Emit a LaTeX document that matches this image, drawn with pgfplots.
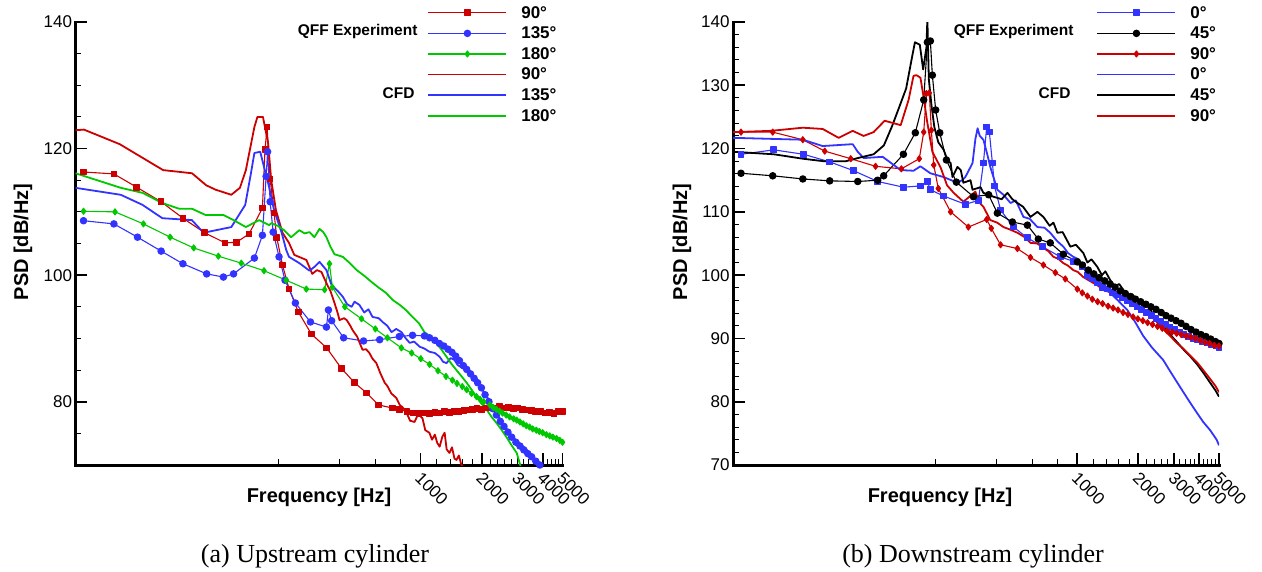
\documentclass[border=0pt]{standalone}
\usepackage{pgfplots}
\pgfplotsset{compat=1.18}
\usepackage{fontspec}
\setmainfont{Liberation Sans}
\newfontfamily\capfont{Liberation Serif}
\definecolor{cred}{RGB}{204,0,0}
\definecolor{cblue}{RGB}{51,51,255}
\definecolor{cgreen}{RGB}{0,200,0}
\newcommand{\tickfont}{\fontsize{17}{20}\selectfont}
\newcommand{\legfont}{\bfseries\fontsize{17}{20}\selectfont}
\newcommand{\grpfont}{\bfseries\fontsize{15.5}{19}\selectfont}
\newcommand{\labfont}{\bfseries\fontsize{20}{24}\selectfont}
\newcommand{\ls}{\rule[-4.5pt]{0pt}{16.5pt}}
\pgfplotsset{
  every axis/.append style={
    scale only axis, height=443pt,
    xmin=20, xmax=5000, ymin=70, ymax=140,
    axis lines=left,
    axis line style={line width=3pt,-,line cap=rect},
    every outer x axis line/.append style={line width=3pt,-},
    every outer y axis line/.append style={line width=3pt,-},
    tick align=inside, major tick length=12pt, minor tick length=6pt,
    every major tick/.append style={line width=1.8pt,black},
    every minor tick/.append style={line width=1pt,black},
    xtick={1000,2000,3000,4000,5000},
    xticklabels={1000,2000,3000,4000,5000},
    minor xtick={200,400,600,800,1200,1400,1600,1800,2200,2400,2600,2800,3200,3400,3600,3800,4200,4400,4600,4800},
    xticklabel style={xshift=2pt,yshift=-1pt,rotate=-45,anchor=north west,font=\tickfont},
    yticklabel style={font=\tickfont},
    legend cell align=left,
    legend style={draw=none,fill=none,font=\legfont,anchor=north west,
      inner sep=0pt,outer sep=0pt,row sep=3.1pt,column sep=12pt},
  },
  expline/.style={line width=1.1pt,line join=round},
  cfdline/.style={line width=1.8pt,line join=round,no markers},
  legend image code/.code={\draw[mark repeat=2,mark phase=2,#1] plot coordinates {(0pt,0pt) (39pt,0pt) (78pt,0pt)};},
}
\pgfkeys{/pgf/number format/assume math mode=true}
\begin{document}
\begin{tikzpicture}
\useasboundingbox (0,0) rectangle (1262pt,-571pt);
% ---------------- (a) upstream ----------------
\begin{semilogxaxis}[at={(75.5pt,-465pt)}, anchor=south west, width=487pt,
  ytick={80,100,120,140},
  minor ytick={75,85,90,95,105,110,115,125,130,135},
  legend style={at={(0.7228,1.0406)}}]
\addplot[expline,cred,mark=square*,mark size=2.8pt] coordinates {
(21.9,116.3) (30.9,116.0) (40,113.9) (52.8,111.6) (67.6,109.0) (86.5,106.7) (109,105.1) (124,105.2) (143,106.5) (166.5,110.6) (171.5,119.9) (175.6,123.4) (181.7,115.2) (190,109.8) (196,105.9) (209,101.6) (225.4,97.8) (250,94.2) (290,90.7) (345,88.5) (407,85.3) (473,83.0) (542,81.4) (620,79.5) (728,79.0)
(790,78.8) (857,78.4) (920,78.2) (982,78.1) (1045,78.2) (1108,78.1) (1176,78.3) (1239,78.2) (1313,78.4) (1386,78.3) (1470,78.5) (1544,78.4) (1635,78.6) (1720,78.7) (1804,78.8) (1899,78.9) (1994,78.8) (2100,79.0) (2215,79.1) (2332,79.0) (2449,79.2) (2576,79.0) (2714,79.1) (2862,78.9) (3011,79.0) (3171,78.8) (3330,78.7) (3511,78.6) (3692,78.4) (3898,78.5) (4101,78.2) (4315,78.3) (4539,78.1) (4774,78.4) (5000,78.5)};
\addlegendentry{\ls 90°}
\addplot[expline,cblue,mark=*,mark size=3.2pt] coordinates {
(21.9,108.6) (30.9,108.1) (40.4,106.0) (52.8,103.8) (67.6,101.8) (88.5,100.2) (107,99.7) (120,100.2) (152,102.7) (166.5,106.3) (173.6,115.6) (176.6,119.5) (181.7,111.6) (188,106.8) (201,102.9) (215,99.2) (242,95.6) (287,92.6) (344,91.8) (352,94.5) (365,92.8) (418,90.1) (524,89.6) (629,89.8) (786,90.3) (913,90.5)
(1045,90.4) (1108,90.1) (1176,89.7) (1239,89.2) (1302,88.8) (1365,88.3) (1428,87.8) (1491,87.2) (1554,86.5) (1625,85.7) (1688,85.1) (1762,84.4) (1836,83.7) (1910,83.0) (1994,82.2) (2078,81.1) (2173,80.0) (2268,78.9) (2364,77.9) (2470,76.9) (2576,76.1) (2692,75.2) (2809,74.4) (2947,73.6) (3086,73.0) (3224,72.4) (3373,71.8) (3522,71.3) (3695,70.6) (3866,70.0) (4037,69.4)};
\addlegendentry{\ls 135°}
\addplot[expline,cgreen,mark=diamond*,mark size=3pt] coordinates {
(21.9,110.1) (31.3,110.0) (43.2,108.1) (58.5,106.0) (76.4,104.3) (101,103.0) (131,101.9) (169.5,100.7) (218,99.2) (274,97.8) (337,97.7) (356,101.8) (368,98.1) (424,95.0) (512,93.1) (599,91.5) (687,90.1) (805,88.5) (904,87.7) (1003,86.8) (1108,85.9) (1218,84.9) (1334,84.0) (1436,83.4) (1512,82.9) (1604,82.4) (1687,81.9) (1783,81.3) (1886,80.8) (1962,80.4) (2047,80.0) (2193,79.5) (2279,79.1) (2364,78.8) (2449,78.5) (2534,78.2) (2639,77.9) (2745,77.6) (2873,77.3) (2976,77.1) (3086,76.8) (3203,76.5) (3320,76.2) (3441,76.0) (3564,75.7) (3717,75.5) (3845,75.3) (3995,75.1) (4165,74.8) (4325,74.6) (4486,74.4) (4673,74.2) (4849,73.9) (5000,73.6)};
\addlegendentry{\ls 180°}
\addplot[cfdline,cred] coordinates {
(20,122.9) (22,123.0) (33,120.7) (54,116.6) (75,116.1) (88,114.2) (98,113.5) (117,112.7) (129,113.8) (138,116.6) (152,123.4) (157.3,125.0) (167.5,125.0) (173.6,122.5) (177.6,120.9) (184,115.0) (194,110.3) (209,106.7) (225,105.1) (239,103.2) (274,102.4) (293,100.2) (309,100.8) (325,100.5) (348,98.4) (360,97.5) (377,95.6) (391,94.0) (399,92.9) (420,93.2) (433,92.9) (451,92.0) (463,91.3) (487,90.3) (518,88.2) (539,88.3) (560,87.7) (580,86.8) (606,86.1) (634,84.5) (666,83.0) (686,82.5) (718,81.3) (760,80.6) (790,79.5) (822,79.0) (855,78.2) (888,77.0) (934,76.8) (972,78.0) (1022,77.4) (1055,75.5) (1105,75.1) (1139,74.0) (1176,74.8) (1208,73.5) (1242,72.9) (1281,74.5) (1314,75.1) (1344,72.5) (1388,71.9) (1428,72.8) (1470,71.0) (1502,70.8) (1544,71.5) (1583,70.2) (1613,69.7)};
\addlegendentry{\ls 90°}
\addplot[cfdline,cblue] coordinates {
(20,113.8) (33.4,112.7) (42.8,111.1) (53.5,109.0) (74.8,108.7) (85.5,106.7) (117,107.6) (137,111.1) (146,116) (152,119.3) (162.4,119.5) (169.5,117.1) (179.7,113.9) (190,110.3) (207,106.7) (218,104.0) (225,102.9) (253,101.9) (284,100.7) (300,101.3) (318,102.1) (344,100.8) (365,98.4) (391,97.5) (414,96.6) (435,95.4) (458,95.0) (473,95.8) (500,95.3) (528,94.1) (554,94.6) (580,93.4) (622,93.2) (650,92.6) (686,92.0) (720,91.0) (759,91.5) (805,91.0) (846,90.0) (884,89.3) (930,89.5) (989,88.7) (1045,88.4) (1105,87.9) (1176,87.7) (1242,87.1) (1292,86.3) (1343,86.1) (1407,86.9) (1469,86.6) (1523,85.8) (1614,85.3) (1744,84.5) (1878,83.4) (2017,81.9) (2141,80.6) (2266,79.2) (2396,77.9) (2534,76.6) (2682,75.5) (2845,74.4) (3086,73.4) (3328,72.4) (3586,71.3) (3862,70.3) (4058,69.5)};
\addlegendentry{\ls 135°}
\addplot[cfdline,cgreen] coordinates {
(20,116.1) (33.4,113.8) (42.8,113.0) (53.5,111.4) (64.7,110.5) (74.8,110.5) (87.5,109.5) (107,109.5) (120,108.7) (138,107.6) (160.4,108.7) (179.7,107.9) (184,108.2) (198,107.8) (213,107.1) (230.5,106.0) (253,107.1) (268.5,106.6) (284,106.8) (300,106.0) (318,107.3) (332,106.8) (344,106.0) (360,104.5) (377,103.3) (414,102.9) (445,102.0) (485,100.8) (528,99.9) (580,98.8) (624,98.0) (676,97.2) (728,96.1) (790,95.3) (846,94.5) (913,93.4) (982,92.4) (1045,91.0) (1108,90.4) (1200,89.2) (1271,88.2) (1343,87.1) (1418,86.0) (1502,85.0) (1593,84.0) (1687,83.0) (1783,81.9) (1886,80.8) (1994,79.7) (2120,78.7) (2237,77.6) (2371,76.6) (2512,75.5) (2650,74.4) (2809,73.1) (2976,71.9) (3077,70.3) (3139,69.3)};
\addlegendentry{\ls 180°}
\end{semilogxaxis}
% ---------------- (b) downstream ----------------
\begin{semilogxaxis}[at={(733pt,-465pt)}, anchor=south west, width=486pt,
  ytick={70,80,90,100,110,120,130,140},
  minor y tick num=4,
  legend style={at={(0.748,1.0406)}}]
\addplot[expline,cblue,mark=square*,mark size=2.8pt] coordinates {
(21.9,119.1) (31.8,119.8) (44.6,119.1) (60.0,117.9) (78.8,116.5) (103.5,114.8) (138.6,113.9) (168,114.1) (182,114.8) (188,113.5) (219,112.5) (280,111.2) (325,111.8) (344,117.7) (357,123.4) (368,122.6) (381,117.7) (390,114.1) (418,110.3) (484,107.6) (567,105.9) (672,104.5) (824,102.9) (952,102.2)
(1058,101.4) (1121,100.0) (1185,99.5) (1259,98.8) (1333,98.1) (1407,97.8) (1492,97.3) (1576,96.9) (1672,96.4) (1767,96.0) (1862,95.5) (1968,95.0) (2074,94.6) (2190,94.1) (2317,93.6) (2444,93.1) (2582,92.7) (2719,92.2) (2867,91.8) (3026,91.4) (3185,91.0) (3354,90.6) (3534,90.3) (3724,90.0) (3925,89.8) (4137,89.5) (4359,89.3) (4592,89.0) (4835,88.8) (5000,88.6)};
\addlegendentry{\ls 0°}
\addplot[expline,black,mark=*,mark size=3.2pt] coordinates {
(21.9,116.1) (31.4,115.7) (44.2,115.2) (60,114.9) (82.5,114.8) (103.5,115.0) (110.8,115.7) (138.6,119.1) (158.7,122.5) (174.6,127.7) (182,136.8) (188.3,137.0) (192.6,131.6) (200,126.1) (209.5,122.5) (226,118.2) (253,114.7) (307,112.4) (365,112.7) (403,109.8) (478,108.4) (567,107.9) (642,105.7) (735,105.1) (853,103.3) (1000,102.1)
(1058,101.6) (1132,100.8) (1206,100.2) (1280,99.6) (1365,99.1) (1449,98.6) (1534,98.1) (1629,97.5) (1725,97.1) (1830,96.6) (1936,96.2) (2053,95.8) (2179,95.4) (2306,95.0) (2444,94.6) (2592,94.1) (2740,93.6) (2899,93.2) (3068,92.8) (3248,92.4) (3439,91.9) (3640,91.4) (3851,91.0) (4073,90.6) (4306,90.3) (4549,89.9) (4803,89.5) (5000,89.2)};
\addlegendentry{\ls 45°}
\addplot[expline,cred,mark=diamond*,mark size=3pt] coordinates {
(21.9,122.6) (31.4,122.6) (44.2,121.4) (56.7,119.6) (76.2,118.4) (101,117.2) (135.4,116.8) (166,118.4) (174.6,122.6) (180,128.7) (186,128.8) (190.4,122.9) (195.7,117.4) (206,113.7) (237,110.0) (290,107.6) (357,108.8) (376,107.4) (418,104.8) (506,104.2) (587,102.8) (680,101.6) (779,100.4) (872,99.4) (1000,97.8)
(1058,97.2) (1121,96.7) (1185,96.2) (1259,95.8) (1333,95.5) (1418,95.1) (1502,94.8) (1587,94.5) (1682,94.1) (1777,93.8) (1883,93.4) (1989,93.1) (2105,92.8) (2222,92.5) (2349,92.2) (2486,91.9) (2624,91.6) (2772,91.2) (2931,91.0) (3089,90.8) (3259,90.6) (3439,90.4) (3629,90.2) (3830,90.0) (4042,89.7) (4264,89.4) (4497,89.2) (4740,88.9) (5000,88.8)};
\addlegendentry{\ls 90°}
\addplot[cfdline,cblue] coordinates {
(20,121.7) (44.2,121.4) (55.4,120.4) (77.9,120.7) (82.5,119.5) (88.2,118.5) (109.5,118.7) (134.4,116.6) (155.5,116.5) (168.2,117.2) (188.3,116.1) (219,115.5) (256,114.6) (270,115.0) (280,115.5) (304,117.7) (314,121.5) (322,123.2) (330,122.0) (344,121.4) (360,119.0) (372,117.1) (403,113.5) (432,112.7) (468,111.4) (497,111.8) (542,109.2) (582,108.9) (635,107.6) (688,107.5) (735,106.7) (794,105.4) (853,104.5) (899,103.5) (955,102.9) (1016,102.5) (1070,101.3) (1164,100.3) (1255,99.2) (1354,98.3) (1454,97.2) (1587,96.0) (1763,94.5) (1904,92.9) (2113,90.4) (2328,88.6) (2651,86.6) (2910,84.5) (3217,82.3) (3544,80.2) (3900,78.2) (4179,76.8) (4521,75.5) (4867,74.0) (5000,73.1)};
\addlegendentry{\ls 0°}
\addplot[cfdline,black] coordinates {
(20,119.5) (31.8,119.1) (44.2,118.4) (56.1,118.0) (72,118.0) (82.5,118.5) (98.8,119.1) (111,120.5) (121.7,123.5) (132,126.5) (143,129.5) (153,134.5) (158,136.8) (167,136.4) (173.5,132.5) (180,136) (182,140.5) (185,131) (190.4,127) (197,123.4) (206,121.0) (219,119.8) (228.5,118.2) (237,117.7) (242,115.5) (256,117.1) (266,116.6) (274,114.6) (297,115.0) (304,113.5) (333,113.9) (344,113.0) (385,112.4) (423,112.0) (452,113.0) (478,112.0) (506,111.4) (540,110.8) (587,109.2) (635,110.0) (680,109.2) (730,107.8) (762,108.3) (797,106.7) (846,106.8) (924,104.5) (984,104.8) (1070,103.5) (1121,102.0) (1174,102.5) (1255,101.3) (1322,100.0) (1375,100.6) (1454,99.2) (1534,98.2) (1608,98.6) (1684,97.7) (1777,96.8) (1862,97.0) (1974,96.1) (2095,95.2) (2201,95.4) (2286,94.6) (2433,93.2) (2562,92.4) (2708,91.6) (2870,90.6) (3068,89.6) (3330,88.3) (3597,87.2) (3900,85.9) (4179,84.6) (4521,83.0) (4800,81.8) (5000,80.8)};
\addlegendentry{\ls 45°}
\addplot[cfdline,cred] coordinates {
(20,122.6) (30.7,122.8) (44.2,123.3) (55.4,123.1) (66.4,121.7) (77.9,122.8) (88.2,122.0) (98.8,122.6) (112,124.4) (134.4,123.7) (147,127.7) (155.5,131.5) (160.8,131.6) (168.2,131.2) (174.6,128.0) (181,124.5) (192.6,119.5) (211.6,117.0) (227.5,114.2) (245.5,113.0) (274,111.6) (296,112.5) (314,113.2) (328,111.5) (344,110.8) (372,108.7) (402,108.3) (432,107.6) (466,107.2) (506,106.7) (550,106.0) (587,105.1) (635,105.0) (680,104.3) (719,103.8) (762,102.9) (804,102.6) (853,101.9) (899,101.5) (955,100.8) (1005,100.5) (1070,99.7) (1164,99.0) (1255,98.4) (1354,97.6) (1454,97.3) (1566,96.7) (1684,96.4) (1820,95.6) (1974,95.0) (2116,94.4) (2286,93.7) (2433,92.8) (2562,92.0) (2708,91.2) (2870,90.4) (3068,89.4) (3330,88.4) (3597,87.3) (3900,86.2) (4179,85.0) (4521,83.6) (4800,82.5) (5000,81.5)};
\addlegendentry{\ls 90°}
\end{semilogxaxis}
% ---------------- labels ----------------
\node[anchor=east,font=\grpfont] at (421pt,-31pt) {QFF Experiment};
\node[anchor=east,font=\grpfont] at (418pt,-93pt) {CFD};
\node[anchor=east,font=\grpfont] at (1077pt,-31pt) {QFF Experiment};
\node[anchor=east,font=\grpfont] at (1074pt,-93pt) {CFD};
\node[rotate=90,font=\labfont] at (23pt,-242pt) {PSD [dB/Hz]};
\node[rotate=90,font=\labfont] at (682pt,-242pt) {PSD [dB/Hz]};
\node[font=\labfont] at (319pt,-497pt) {Frequency [Hz]};
\node[font=\labfont] at (940pt,-497pt) {Frequency [Hz]};
\node[font=\capfont\fontsize{26}{31}\selectfont] at (315pt,-556pt) {(a) Upstream cylinder};
\node[font=\capfont\fontsize{26}{31}\selectfont] at (973pt,-556pt) {(b) Downstream cylinder};
\end{tikzpicture}
\end{document}
